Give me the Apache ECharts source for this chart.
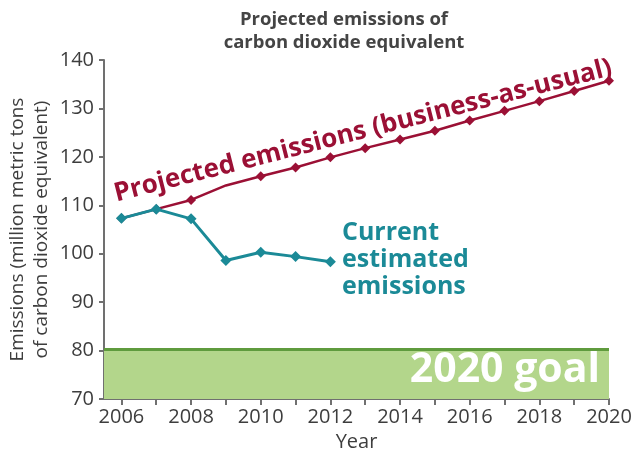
<!DOCTYPE html>
<html>
<head>
<meta charset="utf-8">
<script src="https://cdn.jsdelivr.net/npm/echarts@6/dist/echarts.min.js"></script>
<style>
html,body{margin:0;padding:0;background:#fff;}
#chart{width:634px;height:455px;}
</style>
</head>
<body>
<div id="chart"></div>
<script>
// ---- data ----
const projectedYears = [2006,2007,2008,2009,2010,2011,2012,2013,2014,2015,2016,2017,2018,2019,2020];
const projectedValues = [107.3,109.2,111.1,114.1,116.0,117.8,119.9,121.8,123.6,125.4,127.5,129.5,131.5,133.6,135.7];
const projectedNoMarkerYears = [2009];
const currentYears = [2006,2007,2008,2009,2010,2011,2012];
const currentValues = [107.3,109.2,107.2,98.6,100.3,99.4,98.35];
const xTickYears = [2006,2007,2008,2009,2010,2011,2012,2013,2014,2015,2016,2017,2018,2019,2020];
const xLabelYears = [2006,2008,2010,2012,2014,2016,2018,2020];
const goalBand = [70, 80.5];
const goalLine = 80.3;
const titleText = 'Projected emissions of\ncarbon dioxide equivalent';
const yAxisName = 'Emissions (million metric tons\nof carbon dioxide equivalent)';
const xAxisName = 'Year';
const projectedLabel = 'Projected emissions (business-as-usual)';
const currentLabel = 'Current\nestimated\nemissions';
const goalLabel = '2020 goal';

const RED = '#9b1035';
const TEAL = '#1b8a97';
const AXIS = '#707070';
const TXT = '#3d3d3d';
const FONT = '"Open Sans", "Noto Sans", sans-serif';

const chart = echarts.init(document.getElementById('chart'), null, {renderer: 'canvas'});

const projectedData = projectedYears.map((y, i) => {
  const item = {value: [y, projectedValues[i]]};
  if (projectedNoMarkerYears.includes(y)) item.symbol = 'none';
  return item;
});
const currentData = currentYears.map((y, i) => [y, currentValues[i]]);

const option = {
  animation: false,
  backgroundColor: '#fff',
  textStyle: {fontFamily: FONT},
  grid: {left: 104, right: 25, top: 60, bottom: 56, containLabel: false, outerBoundsMode: 'none'},
  xAxis: {
    type: 'value',
    min: 2005.5,
    max: 2020,
    name: xAxisName,
    nameLocation: 'middle',
    nameGap: 33,
    nameMoveOverlap: false,
    nameTextStyle: {fontSize: 20, color: TXT, fontFamily: FONT},
    splitLine: {show: false},
    axisLine: {show: true, lineStyle: {color: AXIS, width: 2}},
    axisTick: {show: true, length: 6, customValues: xTickYears, lineStyle: {color: AXIS, width: 2}},
    axisLabel: {customValues: xLabelYears, fontSize: 20, color: TXT, margin: 8, fontFamily: FONT,
      formatter: v => String(v)}
  },
  yAxis: {
    type: 'value',
    min: 70,
    max: 140,
    interval: 10,
    name: yAxisName,
    nameLocation: 'middle',
    nameGap: 50,
    nameMoveOverlap: false,
    nameRotate: 90,
    nameTextStyle: {fontSize: 19, color: TXT, lineHeight: 24, fontFamily: FONT, align: 'center'},
    splitLine: {show: false},
    axisLine: {show: true, lineStyle: {color: AXIS, width: 2}},
    axisTick: {show: true, length: 5, lineStyle: {color: AXIS, width: 2}},
    axisLabel: {fontSize: 20, color: TXT, margin: 10, fontFamily: FONT}
  },
  series: [
    {
      name: 'Projected',
      type: 'line',
      data: projectedData,
      symbol: 'diamond',
      symbolSize: 10,
      showSymbol: true,
      lineStyle: {color: RED, width: 2.5},
      itemStyle: {color: RED},
      z: 3,
      markArea: {
        silent: true,
        itemStyle: {color: '#b3d68b'},
        data: [[{yAxis: goalBand[0]}, {yAxis: goalBand[1]}]]
      },
      markLine: {
        silent: true,
        symbol: 'none',
        label: {show: false},
        lineStyle: {color: '#5f9b3d', width: 3, type: 'solid'},
        data: [{yAxis: goalLine}]
      }
    },
    {
      name: 'Current',
      type: 'line',
      data: currentData,
      symbol: 'diamond',
      symbolSize: 11,
      lineStyle: {color: TEAL, width: 3},
      itemStyle: {color: TEAL},
      z: 4
    }
  ],
  graphic: [
    {
      type: 'text', x: 344, y: 8, z: 10,
      style: {text: titleText, font: 'bold 18.5px ' + FONT, fill: '#444', textAlign: 'center', textVerticalAlign: 'top', lineHeight: 23}
    },
    {
      type: 'text', x: 363, y: 131, rotation: 14.3 * Math.PI / 180, z: 10,
      style: {text: projectedLabel, font: 'bold 26px ' + FONT, fill: RED, textAlign: 'center', textVerticalAlign: 'middle'}
    },
    {
      type: 'text', x: 342, y: 219, z: 10,
      style: {text: currentLabel, font: 'bold 25px ' + FONT, fill: TEAL, textAlign: 'left', textVerticalAlign: 'top', lineHeight: 27}
    },
    {
      type: 'text', x: 600, y: 370, z: 10,
      style: {text: goalLabel, font: 'bold 41px ' + FONT, fill: '#ffffff', textAlign: 'right', textVerticalAlign: 'middle'}
    }
  ]
};
chart.setOption(option);
</script>
</body>
</html>
